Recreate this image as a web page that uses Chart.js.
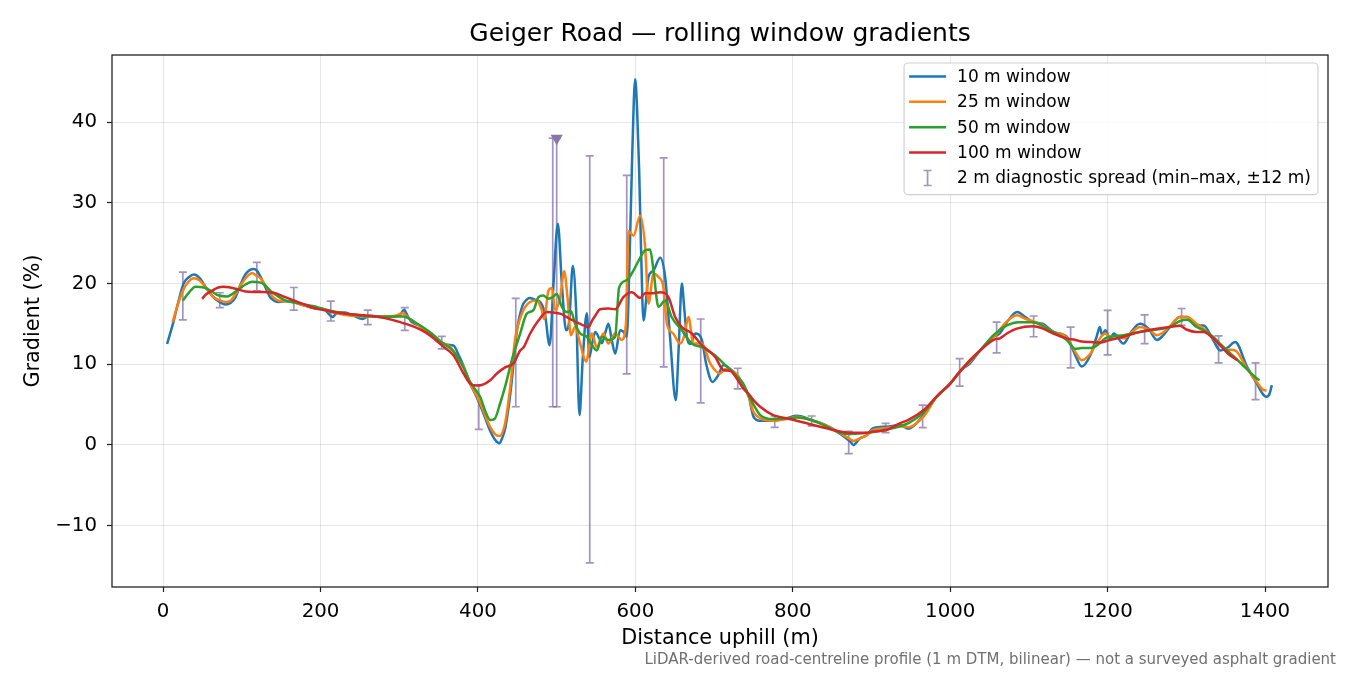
<!DOCTYPE html>
<html>
<head>
<meta charset="utf-8">
<title>Geiger Road gradients</title>
<script src="https://cdn.jsdelivr.net/npm/chart.js@4/dist/chart.umd.min.js"></script>
<style>
  html, body { margin: 0; padding: 0; background: #ffffff; }
  #wrap { width: 1350px; height: 675px; }
</style>
</head>
<body>
<div id="wrap"><canvas id="grad" width="1350" height="675"></canvas></div>
<script>
// Rolling window gradients, [distance (m), gradient (%)]
const window10 = [
  [5, 12.5], [13.5, 15.4], [20, 18.0], [26, 20.0], [33, 20.8], [39, 21.1], [47, 20.6], [55, 19.4],
  [62, 18.5], [70, 17.8], [79, 17.4], [86, 17.6], [92, 18.3], [98, 19.8], [105, 21.2], [115, 21.8],
  [119, 21.6], [124, 20.8], [130, 19.5], [136, 18.3], [142, 17.8], [147, 17.7], [155, 17.8], [164, 17.7],
  [175, 17.4], [189, 17.0], [200, 16.9], [206, 16.7], [215, 15.85], [222, 16.4], [231, 16.4], [240, 16.1],
  [253, 15.6], [262, 16.0], [274, 15.9], [283, 15.8], [291, 15.9], [300, 16.0], [306, 16.7], [311, 15.9],
  [316, 15.2], [325, 14.8], [338, 13.8], [354, 12.6], [362, 12.4], [369, 12.3], [376, 11.0], [382, 9.7],
  [390, 7.6], [398, 6.0], [407, 3.9], [415, 1.85], [422, 0.6], [427, 0.2], [431, 0.9], [434.5, 2.0],
  [440, 5.5], [443, 8.0], [449, 13.8], [456, 17.1], [462, 18.0], [466, 18.2], [472, 18.0], [479, 17.7],
  [485, 16.3], [491, 12.35], [496, 20.0], [501.5, 27.4], [506.5, 20.0], [512, 14.2], [516, 15.5], [520.5, 22.2],
  [524.7, 16.7], [529, 3.7], [533, 10.5], [538.3, 16.3], [541.6, 10.9], [545, 12.5], [549, 14.0], [555, 13.0],
  [557.4, 12.6], [562, 14.0], [565.8, 15.0], [570, 13.0], [574.3, 11.3], [580.6, 14.2], [585, 14.0], [589, 13.4],
  [593.3, 25.7], [596, 36], [599.7, 45.3], [602, 42], [604.8, 34.0], [607, 25], [610.3, 15.4], [616.6, 20.8],
  [623, 21.6], [631.4, 23.2], [637.8, 20.8], [644, 13.4], [651.3, 5.55], [655, 12], [659, 20.0], [662, 17],
  [665.4, 13.4], [670, 12.5], [676, 13.8], [684.4, 13.0], [690, 10], [698, 7.8], [705, 8.6], [712, 9.9],
  [718, 9.6], [729, 8.65], [737, 7.4], [744, 6.0], [750, 3.5], [758, 3.0], [775, 3.0], [792, 3.3],
  [805, 3.6], [826, 3.0], [843, 2.4], [860, 1.4], [873, 0.4], [877, 0.0], [885, 0.8], [894, 1.2],
  [902, 2.06], [919, 2.26], [936, 2.47], [947, 2.0], [966, 3.7], [983, 6.0], [1000, 7.6], [1014, 9.3],
  [1025, 10.1], [1038, 11.7], [1055, 13.4], [1063, 13.8], [1072, 15.2], [1085, 16.46], [1096, 15.8], [1106, 15.2],
  [1118, 15.0], [1131, 14.0], [1148, 13.4], [1159, 11.1], [1167, 9.7], [1178, 11.1], [1186, 13.4], [1190, 14.6],
  [1193, 13.6], [1197, 14.2], [1203, 13.2], [1208, 13.8], [1220, 12.55], [1230, 14.0], [1241, 15.0], [1252, 14.4],
  [1262.5, 13.0], [1270, 13.5], [1279, 14.6], [1292, 15.85], [1301, 15.85], [1313, 14.8], [1322, 14.8], [1334, 13.0],
  [1343, 11.7], [1353, 12.1], [1362, 12.75], [1377, 9.7], [1389.5, 7.6], [1398, 6.2], [1402, 5.96], [1406, 6.4],
  [1408.6, 7.4],
];

const window25 = [
  [12, 15.2], [19, 17.5], [26, 19.3], [32, 20.2], [39, 20.65], [46, 20.4], [52, 19.75], [58, 19.0],
  [64, 18.3], [72, 17.9], [79, 17.7], [86, 17.9], [92, 18.7], [100, 20.0], [108, 21.0], [113, 21.3],
  [118, 21.0], [124, 20.6], [131, 19.6], [138, 18.5], [146, 17.9], [160, 17.8], [175, 17.4], [190, 17.0],
  [205, 16.7], [220, 16.3], [240, 16.0], [260, 15.9], [280, 15.9], [295, 16.0], [304, 16.3], [312, 15.7],
  [325, 14.8], [340, 13.7], [354, 12.7], [365, 12.1], [373, 10.9], [382, 9.6], [390, 7.6], [399, 6.0],
  [407, 4.2], [415, 2.3], [422, 1.3], [427, 1.1], [434, 2.5], [441, 7.2], [447, 13.0], [456, 16.3],
  [466, 17.7], [475, 17.9], [481, 16.7], [484, 15.6], [489.5, 19.1], [494, 19.45], [498, 16.7], [504.4, 18.3],
  [509.5, 21.5], [513.7, 18.3], [518, 13.6], [523.4, 14.6], [529.8, 12.55], [537.4, 10.3], [544.7, 13.8], [551, 12.1],
  [559.4, 13.8], [565.8, 12.55], [574.3, 13.8], [582.7, 13.0], [588, 15.0], [591.2, 26.5], [597.5, 25.9], [606, 28.4],
  [612.4, 24.5], [616.6, 17.5], [623, 21.2], [629.3, 20.8], [635.6, 19.5], [640, 15.0], [648, 13.8], [657, 12.55],
  [662, 13.5], [667.4, 15.85], [673.7, 12.55], [684.4, 12.55], [695, 10.1], [707.7, 8.85], [714, 9.4], [729, 8.7],
  [737, 7.4], [744, 6.0], [750, 4.1], [758.5, 3.3], [775, 3.0], [792, 3.2], [805, 3.5], [826, 3.0],
  [843, 2.4], [860, 1.5], [873, 0.7], [877, 0.5], [885, 0.8], [894, 1.2], [902, 1.85], [919, 2.1],
  [936, 2.3], [947, 2.2], [966, 3.5], [983, 6.0], [1000, 7.6], [1014, 9.3], [1025, 10.3], [1038, 11.7],
  [1055, 13.3], [1072, 15.3], [1085, 16.05], [1096, 15.6], [1106, 15.3], [1118, 14.8], [1131, 14.0], [1148, 13.3],
  [1159, 11.5], [1167, 10.5], [1178, 11.3], [1186, 12.6], [1197, 13.8], [1203, 13.4], [1210, 13.5], [1220, 13.2],
  [1230, 13.9], [1241, 14.6], [1252, 14.3], [1262.5, 13.6], [1270, 13.9], [1279, 14.7], [1292, 15.85], [1301, 15.85],
  [1313, 15.0], [1322, 14.4], [1334, 13.2], [1343, 12.35], [1353, 11.8], [1362, 11.7], [1377, 9.47], [1389.5, 7.8],
  [1398, 6.8], [1402, 6.75],
];

const window50 = [
  [25, 17.9], [33, 18.9], [41, 19.6], [51.7, 19.5], [62, 19.0], [70.7, 18.5], [81, 18.4], [96, 19.3],
  [105, 19.9], [113, 20.2], [124, 20.1], [138.5, 18.9], [155, 17.9], [170, 17.6], [190, 17.2], [210, 16.7],
  [230, 16.3], [250, 16.0], [270, 15.9], [290, 15.9], [305, 15.9], [320, 15.2], [340, 13.9], [354, 12.7],
  [369, 11.6], [382, 9.5], [390, 7.8], [402.7, 5.96], [410, 4.0], [415.5, 3.1], [421, 3.2], [428, 5.1],
  [435, 7.4], [443, 10.5], [453.6, 13.8], [462, 16.26], [470.5, 16.7], [476.8, 18.3], [483, 18.5], [489.5, 18.1],
  [495, 18.3], [500, 18.7], [506.6, 17.1], [512.9, 16.46], [518, 16.6], [523.4, 15.0], [529.8, 13.8], [538.3, 13.4],
  [544, 12.5], [551, 11.7], [557.4, 13.4], [565.8, 13.0], [574.3, 13.4], [579.3, 19.5], [589, 20.4], [597.5, 21.6],
  [603.9, 22.8], [612.4, 24.1], [618.7, 24.2], [623, 21.6], [629.3, 17.1], [637.8, 17.9], [646, 15.85], [659, 14.2],
  [671.7, 12.55], [684.4, 12.1], [701, 11.1], [712, 10.1], [729, 8.5], [737, 7.6], [744, 6.1], [750, 5.0],
  [758.5, 3.7], [775, 3.2], [792, 3.3], [805, 3.4], [826, 3.0], [843, 2.3], [860, 1.5], [873, 1.34],
  [885, 1.4], [902, 1.6], [919, 1.9], [936, 2.3], [947, 2.7], [966, 4.0], [983, 6.0], [1000, 7.6],
  [1014, 9.3], [1038, 11.7], [1055, 13.6], [1072, 14.8], [1087, 15.2], [1106, 15.2], [1118, 14.7], [1131, 14.0],
  [1148, 13.0], [1159, 11.9], [1167, 12.0], [1178, 12.0], [1186, 12.3], [1197, 13.2], [1203, 13.4], [1220, 13.6],
  [1241, 14.0], [1262.5, 14.3], [1279, 14.6], [1292, 15.35], [1301, 15.5], [1313, 14.6], [1322, 14.2], [1334, 13.4],
  [1343, 12.5], [1353, 11.6], [1362, 10.8], [1377, 9.4], [1389.5, 8.23], [1393, 8.0],
];

const window100 = [
  [49.5, 18.1], [55, 18.7], [62, 19.1], [70, 19.5], [77, 19.6], [85, 19.5], [92, 19.35], [104.6, 19.0],
  [115, 18.95], [126, 18.95], [135, 18.9], [142.7, 18.8], [155, 18.3], [166, 17.9], [176.6, 17.5], [190, 17.0],
  [206, 16.67], [220, 16.4], [231.6, 16.26], [250, 16.1], [265.5, 15.97], [276, 15.8], [286.7, 15.6], [298, 15.3],
  [308, 15.0], [320, 14.6], [329, 14.2], [340, 13.5], [354.5, 12.3], [368.8, 11.1], [381.6, 8.85], [390, 7.6],
  [398.5, 7.35], [407, 7.5], [415.5, 8.0], [424, 8.85], [434.5, 9.6], [445, 10.1], [453.6, 11.7], [458, 12.1],
  [466.3, 13.8], [476.8, 15.4], [487.5, 16.46], [496, 16.4], [504.4, 16.26], [510, 16.0], [517, 15.6], [529.8, 15.0],
  [540.3, 14.6], [545, 15.4], [548.9, 16.0], [555.2, 16.8], [565.8, 16.9], [574.3, 16.8], [584.8, 18.3], [595.5, 18.9],
  [606, 18.2], [612.4, 18.8], [623, 18.8], [631.4, 18.9], [642, 18.3], [650.5, 15.85], [659, 14.6], [671.7, 13.8],
  [684.4, 12.35], [701.3, 10.9], [712, 9.26], [720, 9.2], [729, 8.2], [737, 7.0], [744, 6.3], [750, 5.55],
  [758.5, 4.73], [775, 3.7], [792, 3.3], [805, 3.0], [826, 2.47], [843, 2.06], [860, 1.65], [873, 1.5],
  [894, 1.5], [902, 1.65], [919, 1.85], [936, 2.67], [947, 3.1], [966, 4.3], [983, 6.0], [1000, 7.6],
  [1014, 9.26], [1025, 10.5], [1038, 11.7], [1055, 13.0], [1063, 13.2], [1072, 13.8], [1084.6, 14.4], [1105.7, 14.7],
  [1118, 14.4], [1131, 13.8], [1148, 13.2], [1159, 13.0], [1167, 12.8], [1178, 12.75], [1190, 12.7], [1203, 13.0],
  [1220, 13.4], [1241, 14.0], [1262.5, 14.4], [1279, 14.6], [1292, 14.75], [1300, 14.3], [1313, 14.0], [1322, 14.0],
  [1334, 13.2], [1343, 12.35], [1353, 11.3], [1365, 10.5],
];

// 2 m diagnostic spread: centre, min and max
const spreadDist = [25, 72, 119, 166, 213, 260, 307, 354, 401, 448, 495, 500, 542, 589, 636, 683,
  730, 777, 824, 871, 918, 965, 1012, 1059, 1106, 1153, 1200, 1247, 1294, 1341, 1388];
const spreadMin = [15.5, 17.0, 19.1, 16.7, 15.35, 14.9, 14.2, 11.9, 1.93, 4.73, 4.73, 4.73, -14.6, 8.8, 9.67, 5.2,
  6.95, 2.18, 2.35, -1.07, 1.52, 2.14, 7.28, 11.4, 13.4, 9.55, 11.15, 12.55, 14.8, 10.16, 5.6];
const spreadMax = [21.4, 18.85, 22.6, 19.5, 17.8, 16.7, 17.0, 13.45, 7.37, 18.15, 38.0, 38.0, 35.8, 33.4, 35.55, 15.6,
  9.5, 3.58, 3.58, 1.69, 2.67, 4.94, 10.7, 15.2, 15.97, 14.6, 16.67, 16.1, 16.9, 13.5, 10.16];

// marker at the top of the widest spread
const flagPoint = [[500, 38.0]];

const xTicks = [0, 200, 400, 600, 800, 1000, 1200, 1400];
const yTicks = [-10, 0, 10, 20, 30, 40];

const chartTitle = "Geiger Road \u2014 rolling window gradients";
const seriesLabels = ["10 m window", "25 m window", "50 m window", "100 m window"];
const seriesColors = ["#1f77b4", "#ff7f0e", "#2ca02c", "#d62728"];
const spreadLabel = "2 m diagnostic spread (min\u2013max, \u00b112 m)";
const spreadColor = "rgba(118, 98, 160, 0.68)";
const footnote = "LiDAR-derived road-centreline profile (1 m DTM, bilinear) \u2014 not a surveyed asphalt gradient";

const FONT = "'DejaVu Sans', Verdana, sans-serif";
Chart.defaults.font.family = FONT;
Chart.defaults.color = "#000";

const toPoints = (rows) => rows.map((r) => ({ x: r[0], y: r[1] }));
const minusSign = (v) => (v < 0 ? "\u2212" + Math.abs(v) : String(v));

//Error bars drawn under the lines
const spreadBars = {
  id: "spreadBars",
  beforeDatasetsDraw(chart) {
    const { ctx, scales } = chart;
    ctx.save();
    ctx.strokeStyle = spreadColor;
    ctx.lineWidth = 1.7;
    spreadDist.forEach((d, i) => {
      const px = scales.x.getPixelForValue(d);
      const lo = scales.y.getPixelForValue(spreadMin[i]);
      const hi = scales.y.getPixelForValue(spreadMax[i]);
      ctx.beginPath();
      ctx.moveTo(px, lo);
      ctx.lineTo(px, hi);
      ctx.moveTo(px - 4, lo);
      ctx.lineTo(px + 4, lo);
      ctx.moveTo(px - 4, hi);
      ctx.lineTo(px + 4, hi);
      ctx.stroke();
    });
    ctx.restore();
  },
};

//Title over the plot, frame, legend box and footnote
const decorations = {
  id: "decorations",
  afterDraw(chart) {
    const { ctx, chartArea } = chart;
    ctx.save();

    // title centred on the axes, like matplotlib
    ctx.font = "25px " + FONT;
    ctx.fillStyle = "#000";
    ctx.textAlign = "center";
    ctx.textBaseline = "middle";
    ctx.fillText(chartTitle, (chartArea.left + chartArea.right) / 2, 34);

    ctx.strokeStyle = "#222";
    ctx.lineWidth = 1.3;
    ctx.strokeRect(chartArea.left, chartArea.top, chartArea.right - chartArea.left, chartArea.bottom - chartArea.top);

    // legend
    const items = chart.data.datasets
      .filter((ds) => ds.inLegend)
      .map((ds) => ({ text: ds.label, color: ds.borderColor, bar: false }));
    items.push({ text: spreadLabel, color: spreadColor, bar: true });

    ctx.font = "17px " + FONT;
    const textW = Math.max(...items.map((it) => ctx.measureText(it.text).width));
    const rowH = 25.4;
    const w = 5 + 37 + 11 + textW + 7;
    const h = 13.4 + rowH * (items.length - 1) + 16.7;
    const right = chartArea.right - 10;
    const top = chartArea.top + 8;
    const left = right - w;

    ctx.beginPath();
    ctx.roundRect(left, top, w, h, 4);
    ctx.fillStyle = "rgba(255,255,255,0.85)";
    ctx.fill();
    ctx.strokeStyle = "#d0d0d0";
    ctx.lineWidth = 1.2;
    ctx.stroke();

    items.forEach((it, i) => {
      const y = top + 13.4 + i * rowH;
      ctx.strokeStyle = it.color;
      ctx.beginPath();
      if (it.bar) {
        const cx = left + 5 + 18.5;
        ctx.lineWidth = 1.7;
        ctx.moveTo(cx, y - 7.5);
        ctx.lineTo(cx, y + 7.5);
        ctx.moveTo(cx - 4, y - 7.5);
        ctx.lineTo(cx + 4, y - 7.5);
        ctx.moveTo(cx - 4, y + 7.5);
        ctx.lineTo(cx + 4, y + 7.5);
      } else {
        ctx.lineWidth = 2.5;
        ctx.moveTo(left + 5, y);
        ctx.lineTo(left + 42, y);
      }
      ctx.stroke();
      ctx.fillStyle = "#000";
      ctx.textBaseline = "middle";
      ctx.textAlign = "left";
      ctx.fillText(it.text, left + 53, y + 1);
    });

    // footnote
    ctx.font = "15px " + FONT;
    ctx.fillStyle = "#707070";
    ctx.textAlign = "right";
    ctx.textBaseline = "middle";
    ctx.fillText(footnote, chart.width - 14, 660);
    ctx.restore();
  },
};

const lineSets = [window10, window25, window50, window100].map((rows, i) => ({
  label: seriesLabels[i],
  data: toPoints(rows),
  borderColor: seriesColors[i],
  backgroundColor: seriesColors[i],
  borderWidth: 2.5,
  pointRadius: 0,
  cubicInterpolationMode: "monotone",
  fill: false,
  inLegend: true,
  order: 4 - i,
}));

const flagSet = {
  label: "flag",
  data: toPoints(flagPoint),
  showLine: false,
  pointStyle: "triangle",
  rotation: 180,
  pointRadius: 7,
  backgroundColor: "#8677a8",
  borderColor: "#8677a8",
  borderWidth: 0,
  order: 0,
};

const gradChart = new Chart(document.getElementById("grad"), {
  type: "line",
  plugins: [spreadBars, decorations],
  data: { datasets: [...lineSets, flagSet] },
  options: {
    responsive: false,
    animation: false,
    devicePixelRatio: 1,
    layout: { padding: { left: 0, right: 22, top: 55, bottom: 23.6 } },
    plugins: {
      legend: { display: false },
      tooltip: { enabled: false },
      title: { display: false },
    },
    scales: {
      x: {
        type: "linear",
        min: -65,
        max: 1480,
        afterFit: (scale) => { scale.height = 64.4; },
        afterBuildTicks: (scale) => { scale.ticks = xTicks.map((v) => ({ value: v })); },
        ticks: { font: { size: 19.8 }, color: "#000", padding: 8, maxRotation: 0, callback: minusSign },
        grid: { color: "rgba(0,0,0,0.1)", lineWidth: 1, tickLength: 5, tickColor: "#222", tickWidth: 1.2 },
        border: { display: false },
        title: {
          display: true,
          text: "Distance uphill (m)",
          font: { size: 20.8, lineHeight: 1.2 },
          color: "#000",
          padding: { top: 0, bottom: 0 },
        },
      },
      y: {
        type: "linear",
        min: -17.6,
        max: 48.3,
        afterFit: (scale) => { scale.width = 112; },
        afterBuildTicks: (scale) => { scale.ticks = yTicks.map((v) => ({ value: v })); },
        ticks: { font: { size: 19.8 }, color: "#000", padding: 10, callback: minusSign },
        grid: { color: "rgba(0,0,0,0.1)", lineWidth: 1, tickLength: 5, tickColor: "#222", tickWidth: 1.2 },
        border: { display: false },
        title: {
          display: true,
          text: "Gradient (%)",
          font: { size: 20.8, lineHeight: 1.2 },
          color: "#000",
          padding: { top: 21, bottom: 0 },
        },
      },
    },
  },
});
</script>
</body>
</html>
